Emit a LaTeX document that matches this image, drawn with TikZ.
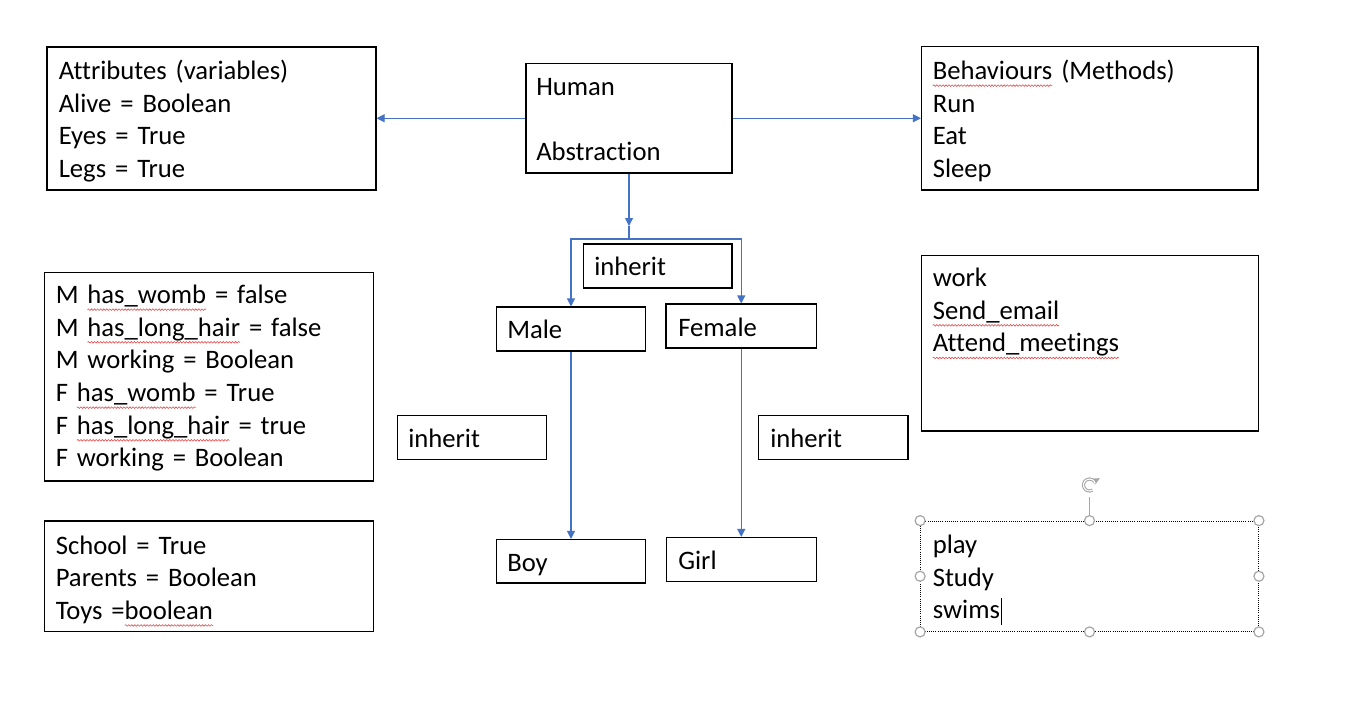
\documentclass[tikz,border=0pt]{standalone}
\usepackage{fontspec}
\setmainfont{Carlito}[Ligatures=NoCommon]
\usetikzlibrary{arrows.meta,fit,calc,decorations.pathmorphing}
\definecolor{linkblue}{HTML}{4472C4}
\definecolor{handlegray}{HTML}{A6A6A6}
\definecolor{squigred}{HTML}{E84C4C}
\newsavebox\sqgbox
\newlength\sqglen
\newcommand\sqg[1]{\leavevmode\sbox\sqgbox{#1}\setlength\sqglen{\wd\sqgbox}%
  \rlap{\tikz[x=1pt,y=1pt,baseline=0pt,overlay]{\draw[squigred,line width=0.45pt,
     decorate,decoration={snake,amplitude=0.6pt,segment length=2.3pt}]
     (0pt,-4.6pt) -- (\sqglen,-4.6pt);}}\usebox\sqgbox}
\tikzset{
  box/.style={draw=black, line width=0.8pt, inner sep=0pt, rectangle},
  selbox/.style={draw=black, line width=0.6pt, densely dotted, inner sep=0pt, rectangle},
  txt/.style={anchor=base west, inner sep=0pt, text width=330pt, align=left,
              font=\fontsize{20}{24.5}\selectfont},
  conn/.style={draw=linkblue, line width=0.8pt},
  arr/.style={conn, -{Triangle[length=6pt,width=6pt]}},
  handle/.style={draw=handlegray, fill=white, line width=0.9pt},
}
\begin{document}
\begin{tikzpicture}[x=0.75pt,y=-0.75pt]
\fill[white] (0,0) rectangle (1367,718);
\useasboundingbox (0,0) rectangle (1367,718);

% boxes
\node[box, fit={(47,47) (376,190)}] (attr) {};
\node[box, fit={(526,63.5) (732,173)}] (human) {};
\node[box, fit={(921.5,46.5) (1258,190)}] (beh) {};
\node[box, fit={(44.5,272.5) (373.5,481)}] (props) {};
\node[box, fit={(583.5,244) (732,288)}] (inhtop) {};
\node[box, fit={(496.5,307) (645.5,351)}] (male) {};
\node[box, fit={(666,304) (816.5,348)}] (female) {};
\node[box, fit={(921.5,255.5) (1258.5,431)}] (work) {};
\node[box, fit={(397.5,415.5) (546.5,459.5)}] (inhleft) {};
\node[box, fit={(758.5,415.5) (908,459.5)}] (inhright) {};
\node[box, fit={(496.5,539.5) (645.5,583)}] (boy) {};
\node[box, fit={(666.5,537.5) (816.5,581.5)}] (girl) {};
\node[box, fit={(44.5,521) (373.5,631.5)}] (child) {};
\node[selbox, fit={(920.5,521) (1258.5,631.5)}] (play) {};

% texts
\node[txt] (attrT) at (58.5,79.5) {Attributes (variables)\\Alive = Boolean\\Eyes = True\\Legs = True};
\node[txt] (humanT1) at (536,95) {Human};
\node[txt] (humanT2) at (536,160) {Abstraction};
\node[txt] (behT) at (932.5,79.5) {\sqg{Behaviours} (Methods)\\Run\\Eat\\Sleep};
\node[txt] (propsT) at (55.5,303.5) {M \sqg{has\_womb} = false\\M \sqg{has\_long\_hair} = false\\M working = Boolean\\F \sqg{has\_womb} = True\\F \sqg{has\_long\_hair} = true\\F working = Boolean};
\node[txt] (inhtopT) at (594,275.5) {inherit};
\node[txt] (maleT) at (507,338.5) {Male};
\node[txt] (femaleT) at (678,336) {Female};
\node[txt] (workT) at (932.5,286.5) {work\\\sqg{Send\_email}\\\sqg{Attend\_meetings}};
\node[txt] (inhleftT) at (408,447) {inherit};
\node[txt] (inhrightT) at (770,447.5) {inherit};
\node[txt] (boyT) at (507,571.5) {Boy};
\node[txt] (girlT) at (678,569) {Girl};
\node[txt] (childT) at (55.5,554) {School = True\\Parents = Boolean\\Toys =\sqg{boolean}};
\node[txt] (playT) at (932.5,553.5) {play\\Study\\swims};

% connectors
\draw[arr] (human.west) -- (human.west -| attr.east);
\draw[arr] (human.east) -- (human.east -| beh.west);
\coordinate (tip) at (human.south |- 0,226);
\coordinate (junc) at (human.south |- 0,239);
\draw[arr] (human.south) -- (tip);
\draw[conn] (tip) -- (junc);
\draw[arr] (junc) -| (male.north);
\draw[arr] (junc) -| (female.north);
\draw[arr] (male.south) -- (male.south |- boy.north);
\draw[arr] (female.south) -- (female.south |- girl.north);

% selection handles of the text box
\coordinate (rot) at (play.north |- 0,485);
\draw[handlegray, line width=0.9pt] (play.north) -- ++(0,-24);
\draw[handlegray, line width=2.4pt, -{Triangle[length=4.5pt,width=7pt]}] ($(rot)+(3,5.2)$) arc[start angle=60, end angle=355, radius=6];
\draw[white, line width=0.8pt] ($(rot)+(3,5.2)$) arc[start angle=60, end angle=345, radius=6];
\foreach \a in {north west,north,north east,west,east,south west,south,south east}
  \draw[handle] (play.\a) circle[radius=5];
\draw[black, line width=0.8pt] (1001.5,598) -- (1001.5,625);
\end{tikzpicture}
\end{document}
